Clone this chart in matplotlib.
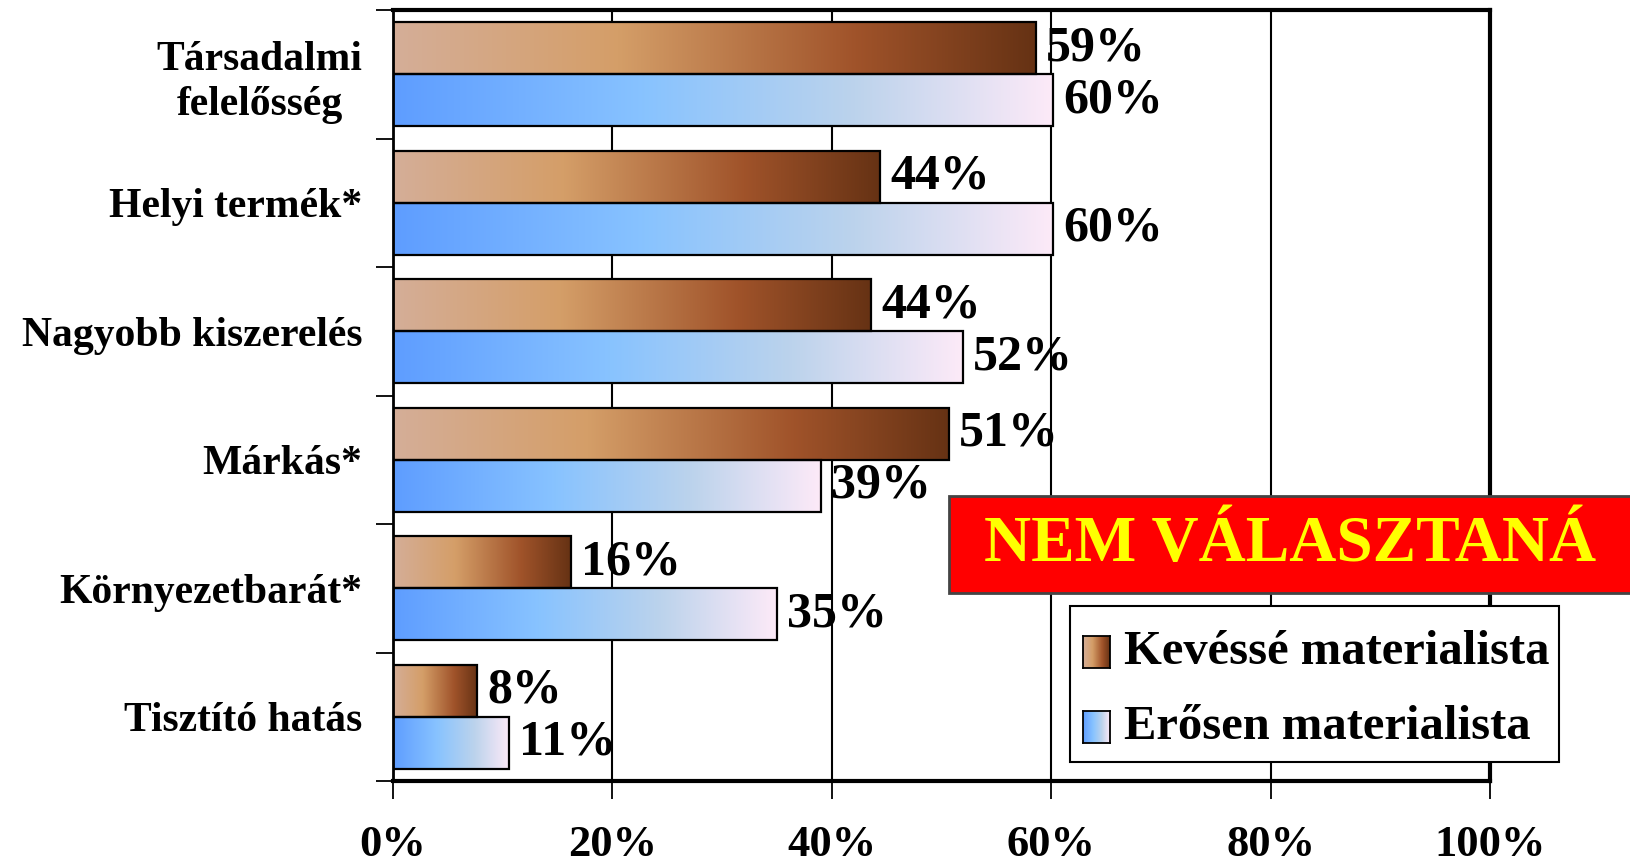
import numpy as np
import matplotlib
matplotlib.use("Agg")
import matplotlib.pyplot as plt
from matplotlib.colors import LinearSegmentedColormap
from matplotlib.patches import Rectangle
from matplotlib.ticker import FixedLocator

categories = ["Társadalmi\nfelelősség", "Helyi termék*", "Nagyobb kiszerelés",
              "Márkás*", "Környezetbarát*", "Tisztító hatás"]
kevesse = [58.6, 44.4, 43.6, 50.7, 16.2, 7.7]   # Kevéssé materialista
erosen = [60.2, 60.2, 52.0, 39.0, 35.0, 10.6]   # Erősen materialista
series_names = ["Kevéssé materialista", "Erősen materialista"]
xticks = [0, 20, 40, 60, 80, 100]
xtick_labels = ["0%", "20%", "40%", "60%", "80%", "100%"]
banner = "NEM VÁLASZTANÁ"

SERIF = ["Liberation Serif", "DejaVu Serif"]
plt.rcParams["font.family"] = SERIF
plt.rcParams["font.weight"] = "bold"

brown_cmap = LinearSegmentedColormap.from_list(
    "brown", [(0.0, "#d5ae98"), (0.35, "#d49e68"), (0.72, "#a0532a"), (1.0, "#663214")])
blue_cmap = LinearSegmentedColormap.from_list(
    "blue", [(0.0, "#5e9dff"), (0.38, "#88c3ff"), (0.7, "#bcd3ec"), (1.0, "#fdeaf8")])
grad = np.linspace(0, 1, 256).reshape(1, -1)

W, H = 1630, 863
fig = plt.figure(figsize=(W / 100, H / 100), dpi=100)
ax = fig.add_axes([393 / W, 1 - 781 / H, (1490 - 393) / W, (781 - 10) / H])

n = len(categories)
ypos = np.arange(n)[::-1]
bh = 0.405

for i, y in enumerate(ypos):
    for val, cmap, yc in ((kevesse[i], brown_cmap, y + bh / 2), (erosen[i], blue_cmap, y - bh / 2)):
        ax.imshow(grad, extent=[0, val, yc - bh / 2, yc + bh / 2], aspect="auto",
                  cmap=cmap, interpolation="bilinear", zorder=2)
        ax.barh(yc, val, height=bh, facecolor="none", edgecolor="black", linewidth=1.6, zorder=3)
        ax.text(val + 0.9, yc, f"{val:.0f}%", ha="left", va="center", fontsize=36,
                fontweight="bold", family=SERIF, zorder=4)

ax.set_xlim(0, 100)
ax.set_ylim(-0.5, n - 0.5)

# x axis
ax.set_xticks(xticks)
ax.set_xticklabels(xtick_labels, fontsize=32, fontweight="bold")
ax.tick_params(axis="x", direction="out", length=13, width=1.3, pad=19)
for x in xticks[1:]:
    ax.axvline(x, color="black", linewidth=1.5, zorder=1)

# y axis
ax.set_yticks(ypos)
ax.set_yticklabels(categories, fontsize=30, fontweight="bold", multialignment="center",
                   linespacing=1.25)
ax.tick_params(axis="y", which="major", length=0, pad=22)
ax.yaxis.set_minor_locator(FixedLocator(np.arange(-0.5, n, 1.0)))
ax.tick_params(axis="y", which="minor", direction="out", length=12, width=1.3)

for s in ["top", "right", "bottom"]:
    ax.spines[s].set_linewidth(3)
ax.spines["left"].set_linewidth(2)

# banner
fig.patches.append(Rectangle((949 / W, 1 - 593 / H), (W + 10 - 949) / W, 97 / H,
                             transform=fig.transFigure, facecolor="#ff0000",
                             edgecolor="#444444", linewidth=2, zorder=5))
fig.text(1290 / W, 1 - 545 / H, banner, ha="center", va="center", fontsize=47,
         fontweight="bold", color="#ffff00", family=SERIF, zorder=6)

# legend (manual)
fig.patches.append(Rectangle((1070 / W, 1 - 762 / H), (1559 - 1070) / W, (762 - 606) / H,
                             transform=fig.transFigure, facecolor="white",
                             edgecolor="black", linewidth=1.5, zorder=5))
for k, (name, cmap, yc) in enumerate(zip(series_names, [brown_cmap, blue_cmap], [652, 727])):
    hax = fig.add_axes([1083 / W, 1 - (yc + 16) / H, 27 / W, 32 / H], zorder=6)
    hax.imshow(grad, aspect="auto", cmap=cmap, interpolation="bilinear",
               extent=[0, 1, 0, 1])
    hax.set_xticks([])
    hax.set_yticks([])
    for s in hax.spines.values():
        s.set_linewidth(1.3)
    fig.text(1124 / W, 1 - yc / H, name, ha="left", va="center", fontsize=35,
             fontweight="bold", family=SERIF, zorder=7)

fig.savefig("out.png", dpi=100)
